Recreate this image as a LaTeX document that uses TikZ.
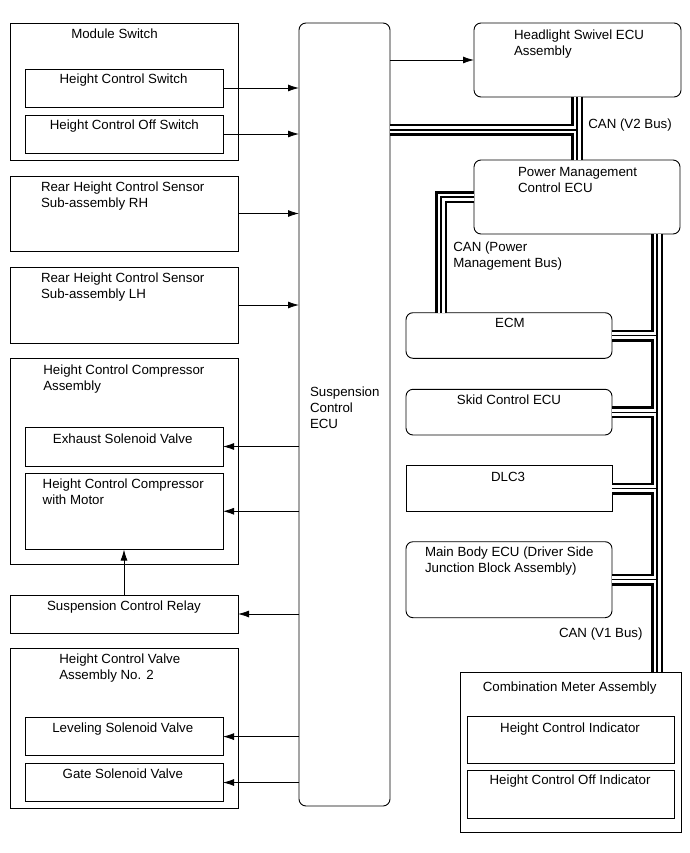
\documentclass[tikz,border=0pt]{standalone}
\usepackage{fontspec}
\setmainfont{Liberation Sans}
\usetikzlibrary{arrows.meta}
\newcommand\boxat[6]{\node[#1, anchor=north west, minimum width={#4-#2}, minimum height={#5-#3}] (#6) at (#2,#3) {};}
\begin{document}
\begin{tikzpicture}[x=1pt,y=-1pt,
  sq/.style={draw=black, line width=0.9pt, inner sep=0pt, outer sep=0pt},
  rd/.style={sq, rounded corners=7pt},
  txt/.style={inner sep=0pt, outer sep=0pt, font=\fontsize{13.3}{16}\selectfont, text=black},
  tl/.style={txt, anchor=north west, align=left},
  tc/.style={txt, anchor=north, align=center},
  arr/.style={draw=black, line width=0.8pt, -{Latex[length=11pt,width=7pt]}},
  busA/.style={draw=black, line width=12pt},
  busB/.style={draw=white, line width=7pt},
  busC/.style={draw=black, line width=1.2pt}]
\useasboundingbox (0,0) rectangle (689,853);
% ---- left column ----
\boxat{sq}{10}{23}{238}{160}{ms}
\boxat{sq}{25}{69}{223}{107}{hcs}
\boxat{sq}{25}{115}{223}{153}{hcos}
\boxat{sq}{10}{176}{238}{251}{rh}
\boxat{sq}{10}{267}{238}{343}{lh}
\boxat{sq}{10}{358}{238}{564}{hcc}
\boxat{sq}{25}{427}{223}{466}{ex}
\boxat{sq}{25}{473}{223}{549.5}{hccm}
\boxat{sq}{10}{595}{238}{633}{rel}
\boxat{sq}{10}{648}{238}{808}{hcv}
\boxat{sq}{25}{717.5}{223}{755.7}{lev}
\boxat{sq}{25}{763.3}{223}{801.7}{gate}
% ---- ECU ----
\boxat{rd}{299}{23}{390}{806}{ecu}
% ---- right column ----
\boxat{rd}{474}{23}{681}{97}{hl}
\boxat{rd}{474}{160}{680}{234}{pmc}
\boxat{rd}{406}{312.7}{612}{358.3}{ecm}
\boxat{rd}{406}{389.3}{612}{435}{skid}
\boxat{sq}{406}{465.7}{612}{511.7}{dlc}
\boxat{rd}{406}{541.7}{612}{617.7}{mb}
\boxat{sq}{460}{672}{681}{832}{cm}
\boxat{sq}{467}{716}{674}{763}{hci}
\boxat{sq}{467}{770}{674}{818}{hcoi}
% ---- texts ----
\node[tc] (ms-t) at (114.5,29.3) {Module Switch};
\node[tc] (hcs-t) at (123.5,74.3) {Height Control Switch};
\node[tc] (hcos-t) at (124.3,120.3) {Height Control Off Switch};
\node[tl] (rh-t) at (41,182.3) {Rear Height Control Sensor\\Sub-assembly RH};
\node[tl] (lh-t) at (41,273.3) {Rear Height Control Sensor\\Sub-assembly LH};
\node[tl] (hcc-t) at (43.3,364.6) {Height Control Compressor\\Assembly};
\node[tc] (ex-t) at (122.7,433.6) {Exhaust Solenoid Valve};
\node[tl] (hccm-t) at (42.7,478.6) {Height Control Compressor\\with Motor};
\node[tc] (rel-t) at (124,600.6) {Suspension Control Relay};
\node[tl] (hcv-t) at (59.3,654.3) {Height Control Valve\\Assembly No. 2};
\node[tc] (lev-t) at (122.8,722.6) {Leveling Solenoid Valve};
\node[tc] (gate-t) at (122.8,768.6) {Gate Solenoid Valve};
\node[tl] (ecu-t) at (310,387) {Suspension\\Control\\ECU};
\node[tl] (hl-t) at (514,30.3) {Headlight Swivel ECU\\Assembly};
\node[tl] (pmc-t) at (518,167) {Power Management\\Control ECU};
\node[tl] (canv2) at (588.3,118.6) {CAN (V2 Bus)};
\node[tl] (canpm) at (453.3,242) {CAN (Power\\Management Bus)};
\node[tc] (ecm-t) at (510,318.3) {ECM};
\node[tc] (skid-t) at (509,395.3) {Skid Control ECU};
\node[tc] (dlc-t) at (508,472) {DLC3};
\node[tl] (mb-t) at (425,547) {Main Body ECU (Driver Side\\Junction Block Assembly)};
\node[tl] (canv1) at (559,628.3) {CAN (V1 Bus)};
\node[tc] (cm-t) at (569.7,682) {Combination Meter Assembly};
\node[tc] (hci-t) at (570,723.3) {Height Control Indicator};
\node[tc] (hcoi-t) at (570,775.3) {Height Control Off Indicator};
% ---- arrows ----
\draw[arr] (hcs.east) -- (hcs.east -| ecu.west);
\draw[arr] (hcos.east) -- (hcos.east -| ecu.west);
\draw[arr] (rh.east) -- (rh.east -| ecu.west);
\draw[arr] (lh.east) -- (lh.east -| ecu.west);
\draw[arr] (ex.east -| ecu.west) -- (ex.east);
\draw[arr] (hccm.east -| ecu.west) -- (hccm.east);
\draw[arr] (rel.east -| ecu.west) -- (rel.east);
\draw[arr] (lev.east -| ecu.west) -- (lev.east);
\draw[arr] (gate.east -| ecu.west) -- (gate.east);
\draw[arr] (rel.north) -- (rel.north |- hccm.south);
\draw[arr] (hl.west -| ecu.east) -- (hl.west);
% ---- buses ----
\coordinate (v2j) at (577,130);
\coordinate (pmj) at (441,197);
\coordinate (rbx) at (657,0);
\foreach \st in {busA,busB,busC}{
  \draw[\st] (v2j -| ecu.east) -- (v2j)
             (v2j |- hl.south) -- (v2j |- pmc.north)
             (pmj -| pmc.west) -- (pmj) -- (pmj |- ecm.north)
             (rbx |- pmc.south) -- (rbx |- cm.north)
             (ecm.east) -- (ecm.east -| rbx)
             (skid.east) -- (skid.east -| rbx)
             (dlc.east) -- (dlc.east -| rbx)
             (mb.east) -- (mb.east -| rbx);
}
\end{tikzpicture}
\end{document}
